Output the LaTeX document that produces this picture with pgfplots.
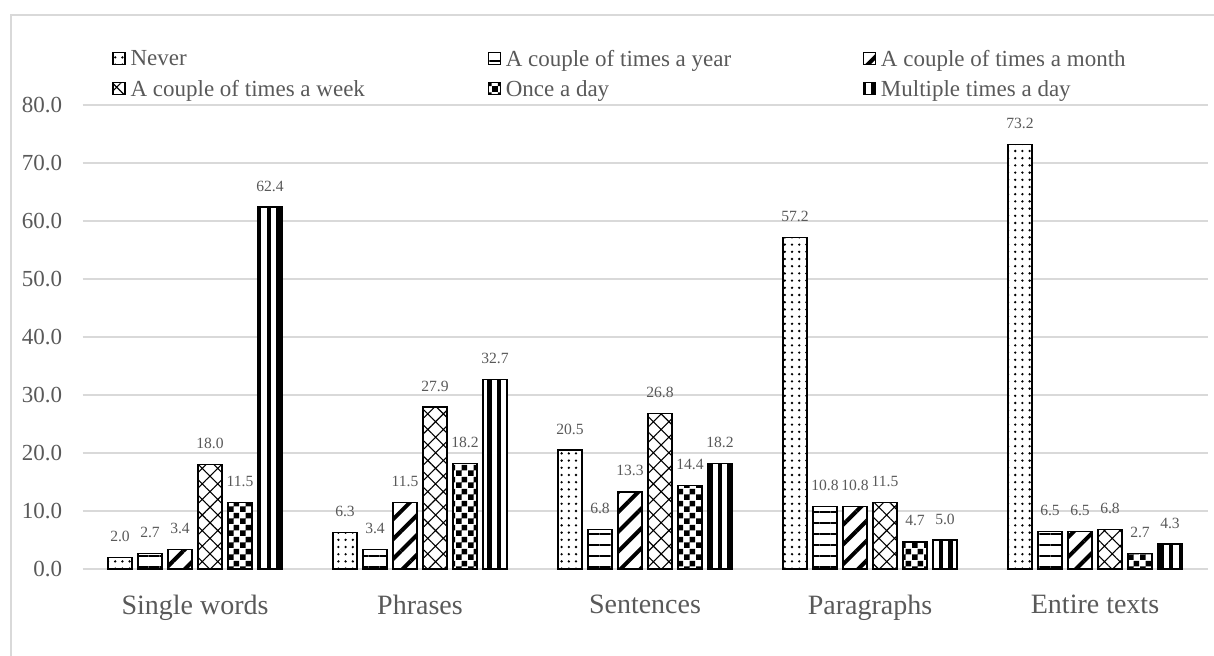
\documentclass[border=0pt]{standalone}
\usepackage{fontspec}
\setmainfont{Liberation Serif}
\usepackage{pgfplots}
\pgfplotsset{compat=1.18}
\usetikzlibrary{patterns,patterns.meta}
\definecolor{gridgray}{HTML}{D9D9D9}
\definecolor{txtgray}{HTML}{595959}
\pgfdeclarepatternformonly{bigchecker}{\pgfpointorigin}{\pgfqpoint{6pt}{6pt}}{\pgfqpoint{6pt}{6pt}}{%
  \pgfpathrectangle{\pgfpointorigin}{\pgfqpoint{3pt}{3pt}}%
  \pgfpathrectangle{\pgfqpoint{3pt}{3pt}}{\pgfqpoint{3pt}{3pt}}%
  \pgfusepath{fill}}
\newcommand{\lbox}[1]{\makebox[170pt][l]{#1}}
\begin{document}
\begin{tikzpicture}
\useasboundingbox (0,0) rectangle (607pt,327.5pt);
\begin{axis}[
  at={(41.25pt,43pt)}, anchor=south west,
  scale only axis, width=562.5pt, height=232pt,
  ybar=3pt, bar width=12pt,
  xmin=-0.5, xmax=4.5, ymin=0, ymax=80,
  enlargelimits=false, clip=false,
  axis lines=left, axis line style={draw=none,-},
  major tick length=0pt,
  xtick={0,1,2,3,4},
  xticklabels={Single words,Phrases,Sentences,Paragraphs,Entire texts},
  xticklabel style={font=\fontsize{14}{16}\selectfont, text=txtgray, anchor=north, inner sep=0pt, yshift=-12.8pt},
  ytick={0,10,20,30,40,50,60,70,80},
  yticklabel={\pgfmathprintnumber[fixed,fixed zerofill,precision=1,assume math mode=true]{\tick}},
  yticklabel style={font=\fontsize{11.5}{13}\selectfont, text=txtgray, anchor=east, inner sep=0pt, xshift=-10pt},
  ymajorgrids, grid style={gridgray, line width=0.75pt},
  nodes near coords={\pgfmathprintnumber[fixed,fixed zerofill,precision=1,assume math mode=true]{\pgfplotspointmeta}},
  every node near coord/.append style={font=\fontsize{7.8}{9}\selectfont, text=txtgray, inner sep=0pt, anchor=south, yshift=7.5pt},
  legend columns=3,
  legend style={at={(0.0262,1.119)}, anchor=north west, draw=none, fill=none, inner sep=0pt,
    nodes={inner sep=0pt, font=\fontsize{11.5}{13}\selectfont, text=txtgray},
    row sep=5.5pt,
    /tikz/every odd column/.append style={column sep=2.5pt},
    /tikz/every even column/.append style={column sep=8.5pt}},
  legend image code/.code={\draw[#1, line width=0.6pt] (0pt,-2.2pt) rectangle (6pt,3.8pt);},
]
\addplot[draw=black, line width=0.75pt, fill=white, postaction={pattern={Dots[distance=3.6pt,radius=0.65pt]}}]
  coordinates {(0,2.0) (1,6.3) (2,20.5) (3,57.2) (4,73.2)};
\addlegendentry{\lbox{Never}}
\addplot[draw=black, line width=0.75pt, fill=white, postaction={pattern={Lines[angle=0,distance=5.5pt,line width=0.7pt]}}]
  coordinates {(0,2.7) (1,3.4) (2,6.8) (3,10.8) (4,6.5)};
\addlegendentry{\lbox{A couple of times a year}}
\addplot[draw=black, line width=0.75pt, fill=white, postaction={pattern={Lines[angle=45,distance=7pt,line width=2pt]}}]
  coordinates {(0,3.4) (1,11.5) (2,13.3) (3,10.8) (4,6.5)};
\addlegendentry{\lbox{A couple of times a month}}
\addplot[draw=black, line width=0.75pt, fill=white, postaction={pattern={Hatch[angle=45,distance=5.5pt,line width=0.55pt]}}]
  coordinates {(0,18.0) (1,27.9) (2,26.8) (3,11.5) (4,6.8)};
\addlegendentry{\lbox{A couple of times a week}}
\addplot[draw=black, line width=0.75pt, fill=white, postaction={pattern=bigchecker}]
  coordinates {(0,11.5) (1,18.2) (2,14.4) (3,4.7) (4,2.7)};
\addlegendentry{\lbox{Once a day}}
\addplot[draw=black, line width=0.75pt, fill=white, postaction={pattern={Lines[angle=90,distance=4.8pt,line width=2.2pt]}}]
  coordinates {(0,62.4) (1,32.7) (2,18.2) (3,5.0) (4,4.3)};
\addlegendentry{\lbox{Multiple times a day}}
\end{axis}
\draw[gridgray, line width=0.75pt] (5.5pt,-20pt) -- (5.5pt,320pt) -- (640pt,320pt);
\end{tikzpicture}
\end{document}
